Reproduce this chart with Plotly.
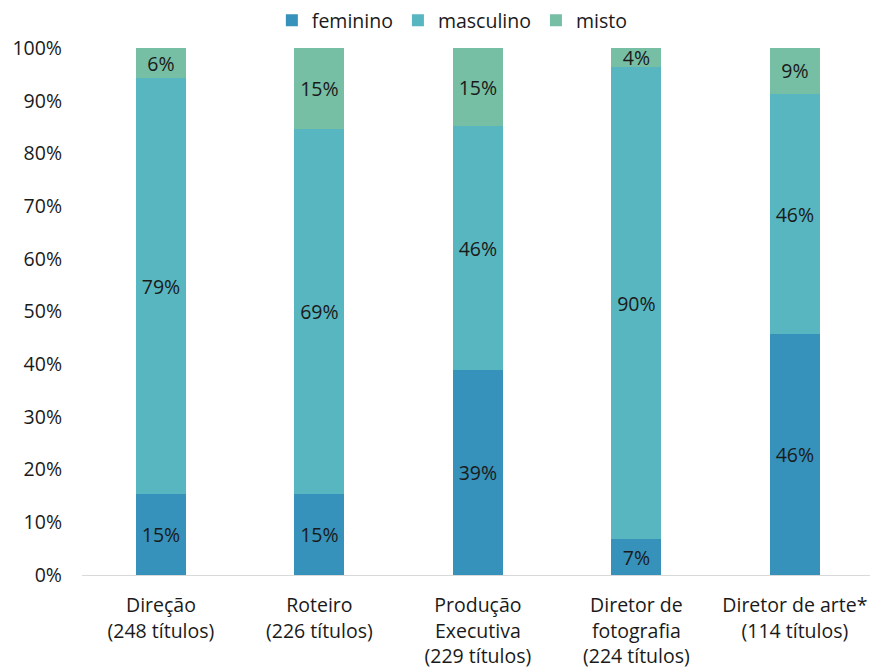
import plotly.graph_objects as go

categorias = ["Direção<br>(248 títulos)", "Roteiro<br>(226 títulos)",
              "Produção<br>Executiva<br>(229 títulos)", "Diretor de<br>fotografia<br>(224 títulos)",
              "Diretor de arte*<br>(114 títulos)"]
feminino = [15.3, 15.4, 38.9, 6.8, 45.7]
masculino = [79.0, 69.2, 46.3, 89.6, 45.6]
misto = [5.7, 15.4, 14.8, 3.6, 8.7]

series = [("feminino", feminino, "#3692bb"),
          ("masculino", masculino, "#58b6c0"),
          ("misto", misto, "#76bea4")]

FS = 19.5

fig = go.Figure()
for nome, vals, cor in series:
    fig.add_trace(go.Bar(
        name=nome, x=categorias, y=vals, marker_color=cor, marker_line_width=0,
        width=0.315, texttemplate="%{y:.0f}%", textposition="inside",
        insidetextanchor="middle", textfont=dict(color="#1a1a1a", size=FS),
    ))

fig.update_layout(
    barmode="stack",
    width=871, height=667,
    margin=dict(l=82, r=1, t=48, b=92),
    paper_bgcolor="white", plot_bgcolor="white",
    font=dict(family="Open Sans", size=FS, color="#1a1a1a"),
    legend=dict(orientation="h", x=0.47, xanchor="center", y=1.015, yanchor="bottom",
                font=dict(size=FS), itemwidth=30, traceorder="normal"),
    uniformtext=dict(mode="show", minsize=FS),
)
fig.update_yaxes(range=[0, 100], dtick=10, ticksuffix="%", showgrid=False,
                 showline=False, zeroline=False, ticks="", ticklabelstandoff=19,
                 automargin=False)
fig.update_xaxes(showline=True, linecolor="#d9d9d9", linewidth=1, ticks="",
                 showgrid=False, ticklabelstandoff=13, tickangle=0, automargin=False,
                 range=[-0.498, 4.474])

fig.write_html("out.html", post_script="document.body.style.margin='0';",
               config={"displayModeBar": False})
